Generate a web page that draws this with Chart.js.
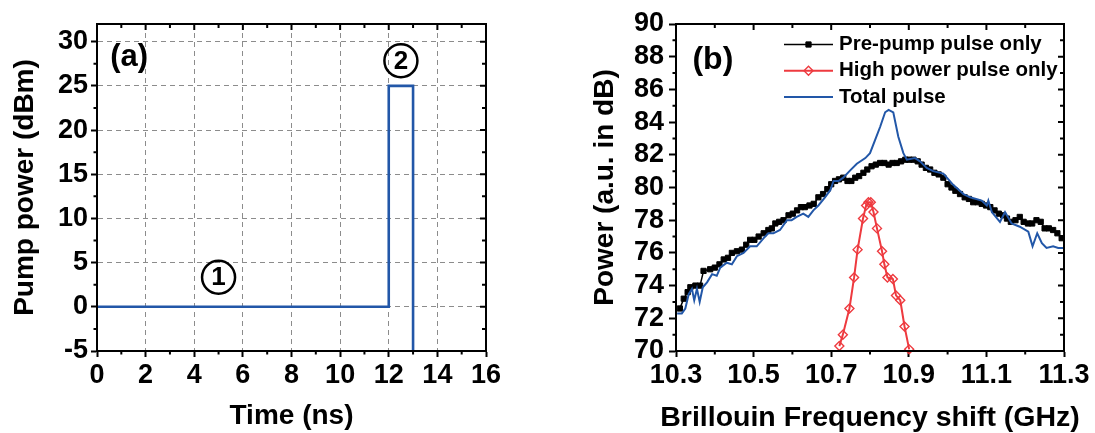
<!DOCTYPE html>
<html>
<head>
<meta charset="UTF-8">
<title>Pump pulse and Brillouin gain spectrum</title>
<script src="https://cdn.jsdelivr.net/npm/chart.js@4.4.0/dist/chart.umd.min.js"></script>
<style>
  html, body { margin: 0; padding: 0; background: #fff; }
  #wrap { position: relative; width: 1095px; height: 433px; overflow: hidden; }
  #chartA { position: absolute; left: 0; top: 0; }
  #chartB { position: absolute; left: 545px; top: 0; }
</style>
</head>
<body>
<div id="wrap">
  <canvas id="chartA" width="545" height="433"></canvas>
  <canvas id="chartB" width="550" height="433"></canvas>
</div>
<script>
// ---- panel (a): pump pulse shape ----
const timeNs  = [0, 12, 12, 13, 13];
const pumpDbm = [0, 0, 25, 25, -5];

// ---- panel (b): Brillouin gain spectra ----
const preFreq = [10.310, 10.320, 10.330, 10.337, 10.350, 10.362, 10.371, 10.388, 10.400, 10.412,
  10.423, 10.434, 10.444, 10.457, 10.470, 10.481, 10.491, 10.502, 10.513, 10.526,
  10.538, 10.547, 10.556, 10.566, 10.577, 10.590, 10.601, 10.612, 10.622, 10.632,
  10.644, 10.655, 10.667, 10.679, 10.690, 10.700, 10.710, 10.720, 10.731, 10.742,
  10.752, 10.762, 10.772, 10.783, 10.793, 10.804, 10.815, 10.826, 10.837, 10.848,
  10.858, 10.869, 10.880, 10.891, 10.901, 10.912, 10.923, 10.933, 10.944, 10.955,
  10.966, 10.977, 10.989, 11.000, 11.010, 11.020, 11.032, 11.044, 11.055, 11.066,
  11.077, 11.088, 11.099, 11.110, 11.121, 11.132, 11.143, 11.153, 11.163, 11.175,
  11.186, 11.196, 11.207, 11.218, 11.229, 11.240, 11.250, 11.261, 11.272, 11.283, 11.294];
const prePower = [72.6, 73.2, 73.6, 73.9, 74.0, 74.0, 74.9, 75.0, 75.1, 75.3,
  75.6, 75.7, 76.0, 76.1, 76.2, 76.5, 76.8, 76.8, 77.0, 77.2,
  77.4, 77.5, 77.8, 77.9, 78.0, 78.3, 78.4, 78.6, 78.8, 78.8,
  78.9, 79.0, 79.4, 79.6, 79.9, 80.2, 80.4, 80.5, 80.6, 80.4,
  80.4, 80.6, 80.7, 80.9, 81.1, 81.3, 81.4, 81.5, 81.5, 81.4,
  81.5, 81.5, 81.6, 81.7, 81.7, 81.7, 81.6, 81.4, 81.2, 81.1,
  80.9, 80.8, 80.6, 80.2, 80.0, 79.8, 79.6, 79.4, 79.3, 79.1,
  79.1, 79.0, 78.9, 78.8, 78.6, 78.4, 78.3, 78.1, 77.9, 78.0,
  78.2, 77.9, 77.8, 77.8, 78.0, 77.9, 77.5, 77.5, 77.4, 77.2, 76.9];

const highFreq = [10.721, 10.730, 10.747, 10.759, 10.768, 10.782, 10.790, 10.796, 10.802, 10.809,
  10.818, 10.831, 10.837, 10.845, 10.859, 10.867, 10.878, 10.889, 10.901];
const highPower = [70.3, 71.0, 72.6, 74.5, 76.2, 78.1, 78.9, 79.1, 79.1, 78.5,
  77.5, 76.1, 75.3, 74.5, 74.4, 73.4, 73.1, 71.5, 70.1];

const totalFreq = [10.303, 10.315, 10.324, 10.333, 10.341, 10.347, 10.354, 10.361, 10.369, 10.380,
  10.393, 10.405, 10.414, 10.431, 10.444, 10.457, 10.474, 10.491, 10.508, 10.526,
  10.538, 10.551, 10.568, 10.586, 10.598, 10.611, 10.628, 10.641, 10.654, 10.667,
  10.684, 10.698, 10.706, 10.719, 10.731, 10.749, 10.766, 10.788, 10.800, 10.813,
  10.826, 10.839, 10.848, 10.860, 10.873, 10.886, 10.895, 10.916, 10.929, 10.946,
  10.963, 10.989, 11.015, 11.041, 11.058, 11.088, 11.101, 11.105, 11.114, 11.135,
  11.148, 11.165, 11.186, 11.208, 11.219, 11.231, 11.243, 11.255, 11.272, 11.285, 11.298];
const totalPower = [72.3, 72.3, 72.6, 73.5, 73.8, 73.1, 73.8, 73.0, 73.9, 74.2,
  74.7, 74.6, 75.1, 75.4, 75.3, 75.8, 76.0, 76.4, 76.4, 76.9,
  77.2, 77.2, 77.4, 78.0, 78.0, 78.2, 78.4, 78.2, 78.6, 78.9,
  79.4, 79.85, 80.4, 80.4, 80.6, 81.05, 81.45, 81.8, 82.1, 82.9,
  83.7, 84.6, 84.75, 84.6, 83.1, 82.1, 81.7, 81.8, 81.6, 81.2,
  81.0, 80.85, 80.15, 79.6, 79.4, 79.2, 78.9, 79.2, 78.5, 77.9,
  78.5, 77.8, 77.6, 77.3, 76.4, 77.2, 76.6, 76.3, 76.4, 76.3, 76.3];

const FONT = '"Liberation Sans", Arial, Helvetica, sans-serif';
const BLUE = '#2257a8';
const RED = '#ee3a3f';

Chart.defaults.font.family = FONT;
Chart.defaults.font.weight = 'bold';
Chart.defaults.color = '#000';

const pts = (xs, ys) => xs.map((v, i) => ({ x: v, y: ys[i] }));

// values from min to max in steps
function steps(min, max, step) {
  const out = [];
  for (let k = 0; ; k++) {
    const v = min + k * step;
    if (v > max + step * 1e-6) break;
    out.push(v);
  }
  return out;
}
const onStep = (v, step) => Math.abs(v / step - Math.round(v / step)) < 1e-6;

// box frame + minor ticks + inward mirror ticks on top/right
const frameTicks = {
  id: 'frameTicks',
  afterDraw(chart, args, o) {
    const { ctx, chartArea: a } = chart;
    const x = chart.scales.x, y = chart.scales.y;
    ctx.save();
    ctx.strokeStyle = '#000';
    ctx.lineWidth = 2;
    ctx.beginPath();
    steps(x.min, x.max, o.xMinor).forEach(v => {
      const p = x.getPixelForValue(v);
      const major = onStep(v - x.min, o.xMajor);
      ctx.moveTo(p, a.top);
      ctx.lineTo(p, a.top + (major ? o.inMajor : o.inMinor));
      if (!major) {
        ctx.moveTo(p, a.bottom);
        ctx.lineTo(p, a.bottom + o.outMinor);
      }
    });
    steps(y.min, y.max, o.yMinor).forEach(v => {
      const p = y.getPixelForValue(v);
      const major = onStep(v - y.min, o.yMajor);
      ctx.moveTo(a.right, p);
      ctx.lineTo(a.right - (major ? o.inMajor : o.inMinor), p);
      if (!major) {
        ctx.moveTo(a.left, p);
        ctx.lineTo(a.left - o.outMinor, p);
      }
    });
    ctx.stroke();
    ctx.strokeRect(a.left, a.top, a.width, a.height);
    ctx.restore();
  }
};

const tickFont = { size: 27, weight: 'bold' };
const titleFont = { size: 28, weight: 'bold', lineHeight: 1 };

// ---------------- chart (a) ----------------
const notesA = {
  id: 'notesA',
  afterDatasetsDraw(chart) {
    const { ctx } = chart;
    const x = chart.scales.x, y = chart.scales.y;
    ctx.save();
    ctx.fillStyle = '#000';
    ctx.textAlign = 'center';
    ctx.textBaseline = 'middle';
    ctx.font = 'bold 31px ' + FONT;
    ctx.fillText('(a)', x.getPixelForValue(1.32), y.getPixelForValue(28.2));
    [['1', 5, 3.35], ['2', 12.5, 27.85]].forEach(([t, vx, vy]) => {
      const px = x.getPixelForValue(vx), py = y.getPixelForValue(vy);
      ctx.beginPath();
      ctx.arc(px, py, 16.5, 0, Math.PI * 2);
      ctx.lineWidth = 2.5;
      ctx.strokeStyle = '#000';
      ctx.stroke();
      ctx.font = 'bold 26px ' + FONT;
      ctx.fillText(t, px, py + 1);
    });
    ctx.restore();
  }
};

new Chart(document.getElementById('chartA'), {
  type: 'line',
  data: {
    datasets: [{
      label: 'Pump',
      data: pts(timeNs, pumpDbm),
      borderColor: BLUE,
      borderWidth: 2.6,
      pointRadius: 0,
      tension: 0,
      fill: false
    }]
  },
  options: {
    responsive: false,
    animation: false,
    devicePixelRatio: 1,
    layout: { padding: { top: 24, right: 59, left: 0, bottom: 0 } },
    plugins: {
      legend: { display: false },
      tooltip: { enabled: false },
      frameTicks: { xMinor: 1, xMajor: 2, yMinor: 2.5, yMajor: 5, inMajor: 6, inMinor: 4, outMinor: 3.5 }
    },
    scales: {
      x: {
        type: 'linear', min: 0, max: 16,
        ticks: { stepSize: 2, font: tickFont, padding: 2, maxRotation: 0, autoSkip: false, includeBounds: false },
        grid: { color: '#8c8c8c', lineWidth: 1, tickLength: 6, tickColor: '#000', tickWidth: 2 },
        border: { color: '#000', width: 2, dash: [5, 4] },
        title: { display: true, text: 'Time (ns)', font: titleFont, padding: { top: 0, bottom: 3 } },
        afterFit: s => { s.height = 82; }
      },
      y: {
        type: 'linear', min: -5, max: 32,
        ticks: { stepSize: 5, font: tickFont, padding: 3, autoSkip: false, includeBounds: false },
        grid: { color: '#8c8c8c', lineWidth: 1, tickLength: 6, tickColor: '#000', tickWidth: 2 },
        border: { color: '#000', width: 2, dash: [5, 4] },
        title: { display: true, text: 'Pump power (dBm)', font: titleFont, padding: { top: 11, bottom: 0 } },
        afterFit: s => { s.width = 97; }
      }
    }
  },
  plugins: [frameTicks, notesA]
});

// ---------------- chart (b) ----------------
function drawMarker(ctx, style, r, px, py) {
  if (Chart.helpers && Chart.helpers.drawPoint) {
    Chart.helpers.drawPoint(ctx, { pointStyle: style, radius: r, rotation: 0, borderWidth: ctx.lineWidth }, px, py);
  }
}

const notesB = {
  id: 'notesB',
  afterDatasetsDraw(chart, args, o) {
    const { ctx, chartArea: a } = chart;
    const x = chart.scales.x, y = chart.scales.y;
    ctx.save();
    ctx.fillStyle = '#000';
    ctx.textAlign = 'center';
    ctx.textBaseline = 'middle';
    ctx.font = 'bold 32px ' + FONT;
    ctx.fillText('(b)', x.getPixelForValue(10.395), y.getPixelForValue(87.77));

    // x-axis title, wider than the plot box so drawn without maxWidth squeeze
    ctx.font = 'bold 28.5px ' + FONT;
    ctx.fillText(o.xTitle, (a.left + a.right) / 2, o.xTitleY);

    // legend inside the plot box
    ctx.font = 'bold 20.5px ' + FONT;
    ctx.textAlign = 'left';
    chart.data.datasets.forEach((ds, i) => {
      const yy = a.top + o.rowTop + i * o.rowGap;
      const x0 = a.left + o.lineLeft, x1 = x0 + o.lineLen;
      ctx.strokeStyle = ds.borderColor;
      ctx.lineWidth = ds.borderWidth;
      ctx.beginPath();
      ctx.moveTo(x0, yy);
      ctx.lineTo(x1, yy);
      ctx.stroke();
      if (ds.pointRadius > 0) {
        ctx.fillStyle = ds.pointBackgroundColor;
        ctx.strokeStyle = ds.pointBorderColor;
        ctx.lineWidth = ds.pointBorderWidth;
        drawMarker(ctx, ds.pointStyle, ds.pointRadius, (x0 + x1) / 2, yy);
      }
      ctx.fillStyle = '#000';
      ctx.fillText(ds.label, x1 + o.textGap, yy);
    });
    ctx.restore();
  }
};

new Chart(document.getElementById('chartB'), {
  type: 'line',
  data: {
    datasets: [{
      label: 'Pre-pump pulse only',
      data: pts(preFreq, prePower),
      borderColor: '#000',
      borderWidth: 1.5,
      pointStyle: 'rect',
      pointRadius: 3.7,
      pointBorderWidth: 1,
      pointBackgroundColor: '#000',
      pointBorderColor: '#000',
      tension: 0,
      order: 2
    }, {
      label: 'High power pulse only',
      data: pts(highFreq, highPower),
      borderColor: RED,
      borderWidth: 2,
      pointStyle: 'rectRot',
      pointRadius: 4.5,
      pointBorderWidth: 1.4,
      pointBackgroundColor: 'rgba(255,255,255,0)',
      pointBorderColor: RED,
      tension: 0,
      clip: false,
      order: 1
    }, {
      label: 'Total pulse',
      data: pts(totalFreq, totalPower),
      borderColor: BLUE,
      borderWidth: 2,
      pointRadius: 0,
      tension: 0,
      order: 0
    }]
  },
  options: {
    responsive: false,
    animation: false,
    devicePixelRatio: 1,
    layout: { padding: { top: 24, right: 31, left: 0, bottom: 0 } },
    plugins: {
      legend: { display: false },
      tooltip: { enabled: false },
      frameTicks: { xMinor: 0.1, xMajor: 0.2, yMinor: 1, yMajor: 2, inMajor: 6, inMinor: 4, outMinor: 3.5 },
      notesB: { lineLeft: 108, lineLen: 49, textGap: 6, rowTop: 20.5, rowGap: 26.3,
                xTitle: 'Brillouin Frequency shift (GHz)', xTitleY: 418.5 }
    },
    scales: {
      x: {
        type: 'linear', min: 10.3, max: 11.3,
        ticks: { stepSize: 0.2, font: tickFont, padding: 2, maxRotation: 0, autoSkip: false, callback: v => v.toFixed(1) },
        grid: { drawOnChartArea: false, tickLength: 6, tickColor: '#000', tickWidth: 2 },
        border: { color: '#000', width: 2 },
        title: { display: false },
        afterFit: s => { s.height = 82; }
      },
      y: {
        type: 'linear', min: 70, max: 90,
        ticks: { stepSize: 2, font: tickFont, padding: 5, autoSkip: false },
        grid: { drawOnChartArea: false, tickLength: 7, tickColor: '#000', tickWidth: 2 },
        border: { color: '#000', width: 2 },
        title: { display: true, text: 'Power (a.u. in dB)', font: titleFont, padding: { top: 46, bottom: 0 } },
        afterFit: s => { s.width = 131; }
      }
    }
  },
  plugins: [frameTicks, notesB]
});
</script>
</body>
</html>
